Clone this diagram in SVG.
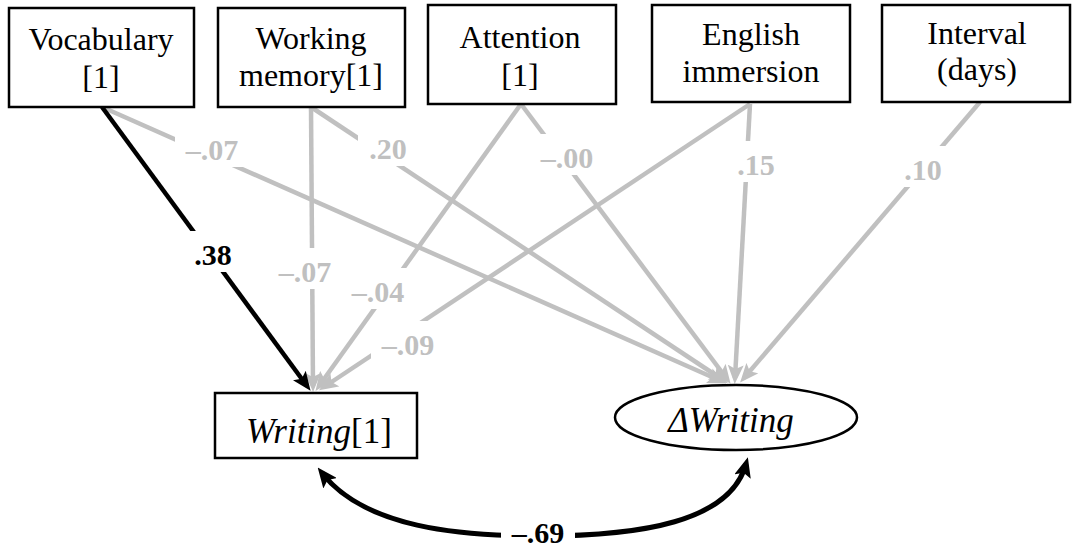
<svg xmlns="http://www.w3.org/2000/svg" width="1072" height="548" viewBox="0 0 1072 548">
<style>
.box{fill:#fff;stroke:#000;stroke-width:2.5}
.t{font-family:"Liberation Serif","Times New Roman",serif;font-size:32px;fill:#000;text-anchor:middle}
.big{font-family:"Liberation Serif","Times New Roman",serif;font-size:35px;fill:#000;text-anchor:middle}
.g{fill:none;stroke:#c0c0c0;stroke-width:4.5}
.k{fill:none;stroke:#000;stroke-width:4.5}
.lbl{font-family:"Liberation Serif","Times New Roman",serif;font-size:30px;font-weight:bold;text-anchor:middle}
.lg{fill:#c0c0c0}
.lk{fill:#000}
.bg{fill:#fff}
</style>
<defs>
<marker id="ag" markerUnits="userSpaceOnUse" viewBox="0 0 19 16" markerWidth="19" markerHeight="16" refX="13" refY="8" orient="auto">
<path d="M0,0 L19,8 L0,16 L4,8 z" fill="#c0c0c0"/>
</marker>
<marker id="ak" markerUnits="userSpaceOnUse" viewBox="0 0 19 16" markerWidth="19" markerHeight="16" refX="13" refY="8" orient="auto">
<path d="M0,0 L19,8 L0,16 L4,8 z" fill="#000"/>
</marker>
<marker id="ak2" markerUnits="userSpaceOnUse" viewBox="0 0 20 17" markerWidth="20" markerHeight="17" refX="13" refY="8.5" orient="auto-start-reverse">
<path d="M0,0 L20,8.5 L0,17 L4,8.5 z" fill="#000"/>
</marker>
</defs>

<g id="connectors">
<path class="g" d="M102,107 L721,381" marker-end="url(#ag)"/>
<path class="g" d="M311,107 L313,386" marker-end="url(#ag)"/>
<path class="g" d="M311,107 L723,380" marker-end="url(#ag)"/>
<path class="g" d="M521,104 L319,386" marker-end="url(#ag)"/>
<path class="g" d="M521,104 L727,379" marker-end="url(#ag)"/>
<path class="g" d="M750,104 L324,387" marker-end="url(#ag)"/>
<path class="g" d="M750,104 L735,378" marker-end="url(#ag)"/>
<path class="g" d="M980,102 L744,378" marker-end="url(#ag)"/>
<path class="k" d="M102,107 L307,386" marker-end="url(#ak)"/>
<path fill="none" stroke="#000" stroke-width="5" d="M322,473 C365,528 460,536 540,536 C640,536 730,522 746,464" marker-start="url(#ak2)" marker-end="url(#ak2)"/>

<rect class="bg" x="183" y="231" width="60" height="41"/>
<text class="lbl lk" x="213" y="265">.38</text>
<rect class="bg" x="175" y="126" width="74" height="41"/>
<text class="lbl lg" x="212" y="160">–.07</text>
<rect class="bg" x="358" y="125" width="60" height="41"/>
<text class="lbl lg" x="388" y="159">.20</text>
<rect class="bg" x="530" y="134" width="74" height="41"/>
<text class="lbl lg" x="567" y="168">–.00</text>
<rect class="bg" x="268" y="248" width="74" height="41"/>
<text class="lbl lg" x="305" y="282">–.07</text>
<rect class="bg" x="341" y="268" width="74" height="41"/>
<text class="lbl lg" x="378" y="302">–.04</text>
<rect class="bg" x="371" y="321" width="74" height="41"/>
<text class="lbl lg" x="408" y="355">–.09</text>
<rect class="bg" x="726" y="141" width="60" height="41"/>
<text class="lbl lg" x="756" y="175">.15</text>
<rect class="bg" x="893" y="146" width="60" height="41"/>
<text class="lbl lg" x="923" y="180">.10</text>
<rect class="bg" x="501" y="512" width="74" height="36"/>
<text class="lbl lk" x="538" y="543">–.69</text>
</g>

<g id="vocabulary">
<rect class="box" x="9" y="8" width="185" height="99"/>
<text class="t" x="101" y="50">Vocabulary</text>
<text class="t" x="101" y="88">[1]</text>
</g>
<g id="working-memory">
<rect class="box" x="218" y="8" width="187" height="99"/>
<text class="t" x="311" y="49">Working</text>
<text class="t" x="311" y="86">memory[1]</text>
</g>
<g id="attention">
<rect class="box" x="428" y="5" width="188" height="99"/>
<text class="t" x="520" y="48">Attention</text>
<text class="t" x="520" y="86">[1]</text>
</g>
<g id="english-immersion">
<rect class="box" x="652" y="5" width="198" height="97"/>
<text class="t" x="751" y="45">English</text>
<text class="t" x="751" y="82">immersion</text>
</g>
<g id="interval">
<rect class="box" x="882" y="5" width="188" height="97"/>
<text class="t" x="977" y="44">Interval</text>
<text class="t" x="977" y="80">(days)</text>
</g>
<g id="writing1">
<rect class="box" x="215" y="393" width="202" height="65"/>
<text class="big" x="319" y="443"><tspan font-style="italic">Writing</tspan>[1]</text>
</g>
<g id="delta-writing">
<ellipse cx="736" cy="417.5" rx="121" ry="32.5" fill="#fff" stroke="#000" stroke-width="2.5"/>
<text class="big" x="731" y="432" font-style="italic">ΔWriting</text>
</g>
</svg>
